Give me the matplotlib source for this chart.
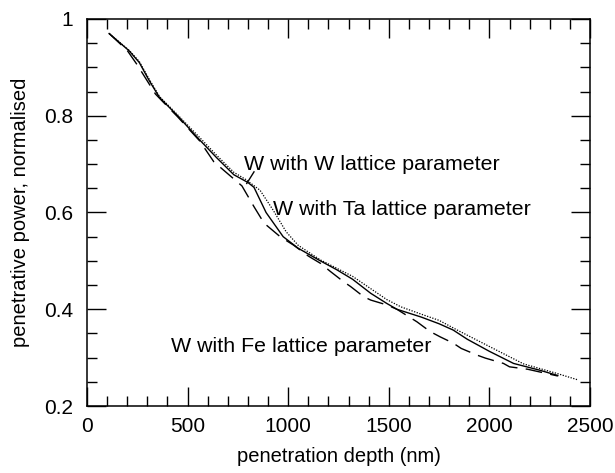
import matplotlib.pyplot as plt
from matplotlib.ticker import MultipleLocator

plt.rcParams['font.family'] = ['Liberation Sans', 'DejaVu Sans']

# W with W lattice parameter (solid)
w_x = [110, 210, 260, 310, 360, 450, 560, 645, 730, 800, 830, 890, 975, 1050,
       1160, 1240, 1320, 1410, 1490, 1540, 1660, 1750, 1820, 1890, 2000, 2120,
       2250, 2340]
w_y = [0.970, 0.934, 0.910, 0.872, 0.838, 0.800, 0.750, 0.713, 0.678, 0.662,
       0.652, 0.600, 0.550, 0.526, 0.500, 0.482, 0.462, 0.433, 0.412, 0.400,
       0.384, 0.370, 0.357, 0.338, 0.313, 0.288, 0.274, 0.263]

# W with Ta lattice parameter (dotted)
ta_x = [110, 210, 260, 310, 360, 450, 560, 645, 730, 790, 860, 925, 990, 1050,
        1160, 1320, 1490, 1560, 1660, 1750, 1840, 2000, 2170, 2330, 2440]
ta_y = [0.970, 0.935, 0.912, 0.875, 0.840, 0.802, 0.755, 0.718, 0.683, 0.668,
        0.646, 0.605, 0.560, 0.532, 0.502, 0.468, 0.420, 0.405, 0.390, 0.377,
        0.357, 0.323, 0.287, 0.268, 0.254]

# W with Fe lattice parameter (dashed)
fe_x = [110, 200, 250, 280, 340, 370, 450, 560, 630, 700, 770, 830, 880, 960,
        1025, 1100, 1160, 1210, 1275, 1310, 1375, 1410, 1490, 1540, 1640, 1705,
        1755, 1820, 1860, 1940, 1980, 2070, 2100, 2190, 2340]
fe_y = [0.970, 0.935, 0.905, 0.885, 0.845, 0.832, 0.798, 0.748, 0.705, 0.680,
        0.655, 0.612, 0.578, 0.550, 0.533, 0.510, 0.495, 0.478, 0.457, 0.447,
        0.426, 0.419, 0.409, 0.400, 0.374, 0.354, 0.343, 0.330, 0.319, 0.305,
        0.299, 0.288, 0.281, 0.276, 0.262]

fig = plt.figure(figsize=(6.15, 4.73), dpi=100)
ax = fig.add_axes([87 / 615, 1 - 406 / 473, (590 - 87) / 615, (406 - 19) / 473])

ax.plot(w_x, w_y, color='black', lw=1.0, ls='-')
ax.plot(ta_x, ta_y, color='black', lw=0.9, ls=(0, (1, 1.2)))
ax.plot(fe_x, fe_y, color='black', lw=1.0, ls=(0, (12, 6)))

ax.set_xlim(0, 2500)
ax.set_ylim(0.2, 1.0)
ax.xaxis.set_major_locator(MultipleLocator(500))
ax.xaxis.set_minor_locator(MultipleLocator(100))
ax.yaxis.set_major_locator(MultipleLocator(0.2))
ax.yaxis.set_minor_locator(MultipleLocator(0.05))
ax.set_yticks([0.2, 0.4, 0.6, 0.8, 1.0])
ax.set_yticklabels(['0.2', '0.4', '0.6', '0.8', '1'])

ax.tick_params(which='both', direction='in', top=True, right=True,
               width=1.0, labelsize=15)
ax.tick_params(which='major', length=14)
ax.tick_params(which='minor', length=7.5)
ax.tick_params(axis='x', pad=8)
ax.tick_params(axis='y', pad=10)
for s in ax.spines.values():
    s.set_linewidth(1.1)

ax.set_xlabel('penetration depth (nm)', fontsize=14.5, labelpad=8)
ax.set_ylabel('penetrative power, normalised', fontsize=14.5, labelpad=10)

ax.text(780, 0.700, 'W with W lattice parameter', fontsize=15.4, va='center')
ax.plot([830, 794], [0.684, 0.660], color='black', lw=1.0)
ax.text(924, 0.607, 'W with Ta lattice parameter', fontsize=15.4, va='center')
ax.text(417, 0.324, 'W with Fe lattice parameter', fontsize=15.4, va='center')

fig.savefig('out.png', dpi=100)
